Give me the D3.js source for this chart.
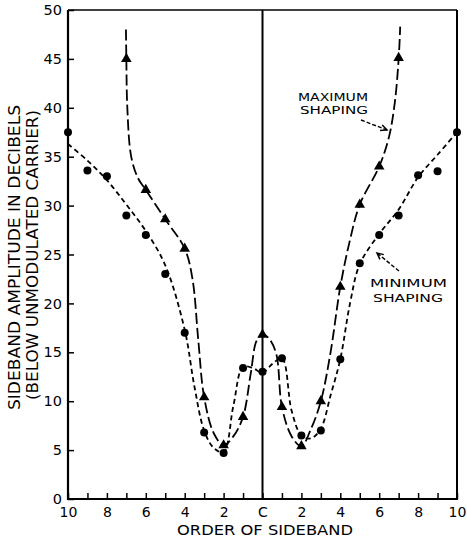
<!DOCTYPE html>
<html><head><meta charset="utf-8">
<script src="https://cdn.jsdelivr.net/npm/d3@7"></script>
<style>
body{margin:0;background:#fff;}
svg{display:block;font-family:"DejaVu Sans",sans-serif;}
</style></head>
<body><svg id="c" width="467" height="538"></svg>
<script>
// ---- data ----
const xTickValues = [-10,-9,-8,-7,-6,-5,-4,-3,-2,-1,0,1,2,3,4,5,6,7,8,9,10];
const xTickLabels = {"-10":"10","-8":"8","-6":"6","-4":"4","-2":"2","0":"C","2":"2","4":"4","6":"6","8":"8","10":"10"};
const yTickValues = [0,5,10,15,20,25,30,35,40,45,50];

// measured points: minimum shaping (circles)
const minOrders = [-10,-9,-8,-7,-6,-5,-4,-3,-2,-1,0,1,2,3,4,5,6,7,8,9,10];
const minValues = [37.5,33.6,33.0,29.0,27.0,23.0,17.0,6.8,4.7,13.4,13.0,14.4,6.5,7.0,14.3,24.1,27.0,29.0,33.1,33.5,37.5];

// measured points: maximum shaping (triangles)
const maxOrders = [-7,-6,-5,-4,-3,-2,-1,0,1,2,3,4,5,6,7];
const maxValues = [45.0,31.6,28.6,25.6,10.4,5.5,8.4,16.8,9.4,5.4,10.0,21.7,30.1,34.0,45.1];

// traced fitted curves
const minCurveX = [-10,-9,-8,-7,-6,-5,-4,-3.5,-3,-2.5,-2,-1.5,-1,-0.5,0,0.5,1,1.5,2,2.5,3,3.5,4,4.5,5,6,7,8,9,10];
const minCurveY = [36.3,34.6,32.6,30.1,27.4,23.9,17.3,11.5,7.0,5.2,4.8,9.5,13.5,13.4,12.9,13.8,14.4,9.0,6.5,6.2,7.2,10.6,14.3,20.0,24.0,27.1,29.6,32.9,35.2,37.5];
const maxCurveX = [-7.02,-7.0,-6.95,-6.75,-6.4,-6,-5,-4,-3.6,-3.3,-3,-2.5,-2,-1.5,-1,-0.6,-0.3,0,0.3,0.7,1,1.5,2,2.5,3,3.5,4,4.5,5,6,6.5,6.8,7,7.08];
const maxCurveY = [48,45,40,35,32.8,31.6,28.6,25.6,22.5,16.2,10.4,6.7,5.5,6.4,8.4,12.9,16.2,16.8,16.5,14.9,9.4,6.4,5.4,7.2,10.0,15.0,21.7,26.5,30.1,34.0,37.0,40.5,45.0,48.3];

// ---- layout ----
const svg = d3.select("#c");
const L = 68, R = 457, T = 10, B = 499;
const x = d3.scaleLinear().domain([-10,10]).range([L,R]);
const y = d3.scaleLinear().domain([0,50]).range([B,T]);

// axes
const xAxis = d3.axisBottom(x).tickValues(xTickValues).tickSizeInner(-6).tickSizeOuter(0).tickPadding(8)
  .tickFormat(d => xTickLabels[String(d)] || "");
const gx = svg.append("g").attr("transform",`translate(0,${B})`).call(xAxis);
gx.select(".domain").remove();
gx.selectAll("line").attr("stroke","#000").attr("stroke-width",1.5);
gx.selectAll("text").attr("font-size",14).attr("fill","#000").attr("font-family","DejaVu Sans");

const yAxis = d3.axisLeft(y).tickValues(yTickValues).tickSizeInner(-6).tickSizeOuter(0).tickPadding(6);
const gy = svg.append("g").attr("transform",`translate(${L},0)`).call(yAxis);
gy.select(".domain").remove();
gy.selectAll("line").attr("stroke","#000").attr("stroke-width",1.5);
gy.selectAll("text").attr("font-size",14.5).attr("fill","#000").attr("font-family","DejaVu Sans");

// frame
svg.append("line").attr("x1",L).attr("x2",R).attr("y1",T).attr("y2",T).attr("stroke","#000").attr("stroke-width",1.5);
svg.append("line").attr("x1",R).attr("x2",R).attr("y1",T).attr("y2",B).attr("stroke","#000").attr("stroke-width",2);
svg.append("line").attr("x1",L).attr("x2",L).attr("y1",T).attr("y2",B+1).attr("stroke","#000").attr("stroke-width",2.2);
svg.append("line").attr("x1",L-1).attr("x2",R+1).attr("y1",B).attr("y2",B).attr("stroke","#000").attr("stroke-width",2.2);
// carrier line
svg.append("line").attr("x1",x(0)).attr("x2",x(0)).attr("y1",T).attr("y2",B).attr("stroke","#000").attr("stroke-width",2);

// curves
const line = d3.line().x(d=>x(d[0])).y(d=>y(d[1])).curve(d3.curveCatmullRom.alpha(0.5));
svg.append("path").datum(minCurveX.map((v,i)=>[v,minCurveY[i]]))
  .attr("d",line).attr("fill","none").attr("stroke","#000").attr("stroke-width",1.8).attr("stroke-dasharray","5,3.5");
svg.append("path").datum(maxCurveX.map((v,i)=>[v,maxCurveY[i]]))
  .attr("d",line).attr("fill","none").attr("stroke","#000").attr("stroke-width",1.8).attr("stroke-dasharray","11,4");

// markers
svg.append("g").selectAll("circle").data(minOrders.map((v,i)=>[v,minValues[i]])).join("circle")
  .attr("cx",d=>x(d[0])).attr("cy",d=>y(d[1])).attr("r",4).attr("fill","#000");
const tri = d3.symbol().type(d3.symbolTriangle).size(48);
svg.append("g").selectAll("path").data(maxOrders.map((v,i)=>[v,maxValues[i]])).join("path")
  .attr("d",tri).attr("transform",d=>`translate(${x(d[0])},${y(d[1])})`).attr("fill","#000");

// axis titles
svg.append("text").attr("transform","translate(20,257.5) rotate(-90)").attr("text-anchor","middle")
  .attr("font-size",16).attr("textLength",305).attr("lengthAdjust","spacingAndGlyphs")
  .text("SIDEBAND AMPLITUDE IN DECIBELS");
svg.append("text").attr("transform","translate(38,255) rotate(-90)").attr("text-anchor","middle")
  .attr("font-size",16).attr("textLength",290).attr("lengthAdjust","spacingAndGlyphs")
  .text("(BELOW UNMODULATED CARRIER)");
svg.append("text").attr("x",265).attr("y",535).attr("text-anchor","middle")
  .attr("font-size",14).attr("textLength",176).attr("lengthAdjust","spacingAndGlyphs")
  .text("ORDER OF SIDEBAND");

// annotations
function label(txt,x0,yb,w){
  svg.append("text").attr("x",x0).attr("y",yb).attr("font-size",11)
    .attr("textLength",w).attr("lengthAdjust","spacingAndGlyphs").text(txt);
}
label("MAXIMUM",298,100.5,70);
label("SHAPING",300,113.5,68);
label("MINIMUM",370,287,77);
label("SHAPING",373,301.5,70);

function arrow(x1,y1,x2,y2){
  svg.append("line").attr("x1",x1).attr("y1",y1).attr("x2",x2).attr("y2",y2)
    .attr("stroke","#000").attr("stroke-width",1.4).attr("stroke-dasharray","4,2");
  const a = Math.atan2(y2-y1,x2-x1), h=7, s=0.45;
  const p = [[x2-h*Math.cos(a-s),y2-h*Math.sin(a-s)],[x2,y2],[x2-h*Math.cos(a+s),y2-h*Math.sin(a+s)]];
  svg.append("path").attr("d",d3.line()(p)).attr("fill","none").attr("stroke","#000").attr("stroke-width",1.5);
}
arrow(361,120,387,130);
arrow(399,271,377,253);
</script></body></html>
